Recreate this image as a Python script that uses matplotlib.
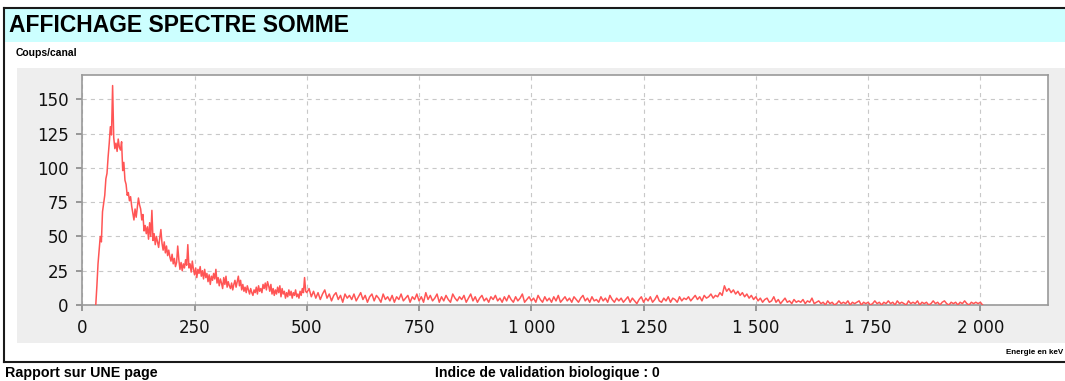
import numpy as np
import matplotlib
matplotlib.use("Agg")
import matplotlib.pyplot as plt
from matplotlib.patches import Rectangle
from matplotlib.lines import Line2D
from matplotlib.ticker import FuncFormatter

# summed spectrum, low-energy part: counts per 2.5 keV channel from 30 keV
coups_bas = [
    0, 14, 30, 40, 50, 46, 68, 74, 80, 92,
    96, 108, 118, 130, 124, 160, 122, 114, 118, 112,
    121, 115, 113, 119, 98, 104, 91, 88, 80, 82,
    76, 79, 72, 67, 62, 70, 64, 71, 78, 73,
    70, 62, 66, 54, 58, 52, 57, 48, 60, 50,
    69, 47, 52, 44, 50, 46, 42, 49, 55, 45,
    40, 46, 38, 43, 36, 40, 35, 32, 37, 30,
    34, 28, 31, 43, 33, 26, 31, 25, 30, 27,
    33, 29, 44, 27, 30, 24, 32, 26, 22, 27,
    20, 26, 23, 28, 21, 25, 19, 26, 20, 23,
    17, 22, 15, 21, 18, 23, 19, 26, 16, 20,
    14, 19, 16, 12, 20, 15, 21, 13, 17, 14,
    12, 16, 11, 15, 18, 13, 17, 21, 14, 18,
    11, 15, 10, 13, 9, 14, 11, 8, 12, 9,
    7, 11, 9, 13, 8, 14, 10, 12, 9, 15,
    12, 16, 11, 17, 14, 10, 15, 8, 12, 7,
    11, 8, 13, 9, 14, 6, 12, 8, 10, 5,
    9, 6, 11, 7, 10, 5, 9, 7, 11, 6,
    8, 5, 10, 7, 12, 9, 20, 10,
]
# high-energy part: counts per 5 keV channel from 500 keV
coups_haut = [
    9, 12, 6, 10, 5, 9, 4, 8, 11, 5,
    8, 3, 7, 9, 4, 7, 2, 8, 5, 7,
    4, 8, 3, 6, 9, 4, 7, 2, 6, 8,
    3, 7, 5, 2, 8, 4, 6, 3, 7, 2,
    6, 4, 8, 3, 5, 7, 2, 6, 4, 8,
    3, 6, 2, 9, 4, 7, 3, 5, 8, 2,
    6, 3, 7, 4, 2, 8, 5, 3, 6, 4,
    7, 2, 5, 8, 3, 6, 2, 5, 7, 3,
    5, 2, 6, 4, 7, 3, 5, 2, 6, 3,
    7, 4, 2, 6, 3, 5, 8, 2, 4, 6,
    3, 5, 2, 7, 4, 2, 6, 3, 5, 2,
    6, 3, 7, 2, 4, 6, 3, 5, 2, 6,
    4, 2, 5, 7, 3, 5, 2, 6, 3, 4,
    2, 6, 3, 5, 2, 7, 4, 2, 5, 3,
    5, 2, 4, 6, 2, 5, 3, 1, 4, 6,
    2, 5, 3, 6, 2, 4, 7, 3, 2, 5,
    3, 6, 2, 5, 4, 2, 6, 3, 5, 4,
    6, 3, 5, 7, 4, 6, 3, 7, 5, 6,
    8, 5, 7, 6, 9, 7, 14, 10, 12, 9,
    11, 8, 10, 7, 9, 6, 8, 5, 7, 4,
    6, 3, 5, 2, 4, 5, 2, 3, 6, 2,
    4, 1, 3, 5, 2, 3, 1, 4, 2, 3,
    2, 4, 1, 3, 2, 5, 1, 2, 3, 1,
    2, 0, 3, 1, 2, 0, 1, 3, 1, 2,
    1, 3, 0, 2, 1, 2, 3, 0, 2, 1,
    2, 0, 1, 3, 1, 2, 0, 2, 1, 3,
    1, 2, 0, 3, 1, 2, 1, 0, 3, 1,
    2, 1, 3, 0, 2, 1, 2, 0, 1, 3,
    1, 2, 0, 2, 3, 1, 0, 2, 1, 2,
    0, 2, 1, 3, 1, 0, 2, 1, 2, 1,
    2, 0,
]
energie_kev = np.concatenate([30 + 2.5 * np.arange(len(coups_bas)),
                              500 + 5.0 * np.arange(len(coups_haut))])
coups = coups_bas + coups_haut

x_ticks = [0, 250, 500, 750, 1000, 1250, 1500, 1750, 2000]
y_ticks = [0, 25, 50, 75, 100, 125, 150]

W, H = 1065, 381
plt.rcParams["lines.scale_dashes"] = False
fig = plt.figure(figsize=(W / 100, H / 100), dpi=100)
fig.patch.set_facecolor("white")


def fx(px):
    return px / W


def fy(py):
    return 1 - py / H


# page decorations: title band, grey chart panel, black frame
fig.add_artist(Rectangle((fx(5), fy(42)), fx(1065 - 5), 33 / H,
                         transform=fig.transFigure, color="#ccffff", lw=0, zorder=0))
fig.add_artist(Rectangle((fx(17), fy(343)), fx(1065 - 17), 275 / H,
                         transform=fig.transFigure, color="#eeeeee", lw=0, zorder=0))
for xs, ys in [([4, 1065], [8, 8]), ([4, 4], [8, 362]), ([4, 1065], [362, 362])]:
    fig.add_artist(Line2D([fx(v) for v in xs], [fy(v) for v in ys],
                          transform=fig.transFigure, color="#1a1a1a", lw=1.5))

fig.text(fx(9), fy(26), "AFFICHAGE SPECTRE SOMME", family="Liberation Sans",
         weight="bold", fontsize=16.5, va="center", ha="left")
fig.text(fx(16), fy(53), "Coups/canal", family="Liberation Sans",
         weight="bold", fontsize=7.5, va="center", ha="left")
fig.text(fx(1063), fy(352), "Energie en keV", family="Liberation Sans",
         weight="bold", fontsize=5.8, va="center", ha="right")
fig.text(fx(5), fy(373), "Rapport sur UNE page", family="Liberation Sans",
         weight="bold", fontsize=10.3, va="center", ha="left")
fig.text(fx(435), fy(373), "Indice de validation biologique : 0",
         family="Liberation Sans", weight="bold", fontsize=10.1, va="center", ha="left")

ax = fig.add_axes([fx(82.3), fy(305), fx(1047.7 - 82.3), 230 / H])
ax.set_facecolor("white")
ax.plot(energie_kev, coups, color="#ff5555", lw=1.1, zorder=3)

ax.set_xlim(0, 2150)
ax.set_ylim(0, 167.7)
ax.set_xticks(x_ticks)
ax.set_yticks(y_ticks)
ax.xaxis.set_major_formatter(FuncFormatter(lambda v, p: f"{int(v):,}".replace(",", " ")))
ax.grid(True, color="#c8c8c8", lw=0.8, linestyle=(0, (3, 3)))
ax.set_axisbelow(True)
for s in ax.spines.values():
    s.set_color("#999999")
    s.set_linewidth(1.2)
ax.tick_params(length=4, width=1.2, color="#888888", labelsize=12, pad=6,
               labelcolor="#111111")

fig.savefig("out.png", dpi=100)
